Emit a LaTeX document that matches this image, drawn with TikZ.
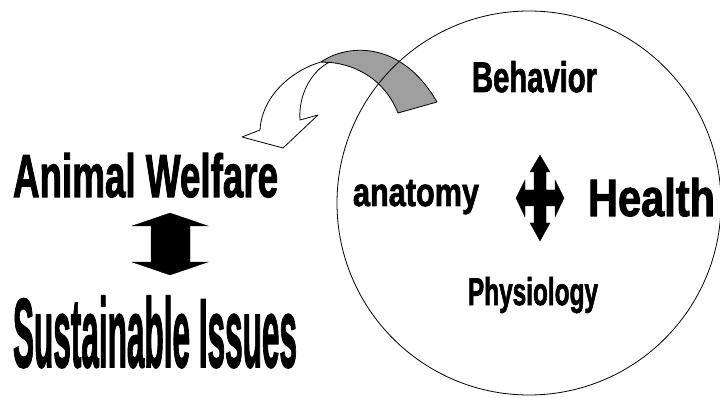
\documentclass[tikz,border=0pt]{standalone}
\usepackage{fontspec}
\setmainfont{Liberation Sans}[BoldFeatures={FakeBold=2}]
\usepackage{graphicx}
\newcommand{\fittext}[3]{\resizebox{#1pt}{#2pt}{\bfseries #3}}
\begin{document}
\begin{tikzpicture}[x=1pt,y=-1pt,
  lbl/.style={anchor=base west,inner sep=0pt,outer sep=0pt},
  outline/.style={draw=black,line width=0.8pt,line join=round},
  solidarrow/.style={fill=black,draw=black,line width=0.3pt,line join=miter}]
\useasboundingbox (0,0) rectangle (720,398);
\fill[white] (0,0) rectangle (720,398);
% ribbon arrow
\draw[outline,fill=white] (321,62) .. controls (293,70) and (262,95) .. (260,130)
  -- (242,137) -- (283,148) -- (318,115) -- (300,120)
  .. controls (298,95) and (312,70) .. (330,62) -- cycle;
\draw[outline,fill=gray!75] (321,62) .. controls (345,45) and (400,38) .. (437,102)
  -- (398,113) .. controls (385,80) and (355,62) .. cycle;
% circle
\draw[outline] (529,203) circle[radius=192pt];
% double vertical arrow
\draw[solidarrow] (170,213) -- (208,226) -- (190,226) -- (190,262) -- (208,262)
  -- (170,275) -- (132,262) -- (151,262) -- (151,226) -- (132,226) -- cycle;
% four-way arrow
\draw[solidarrow] (540,155) -- (550,172) -- (546,172) -- (546,190) -- (555,190)
  -- (555,180) -- (564,198) -- (555,217) -- (555,206) -- (546,206) -- (546,223)
  -- (550,223) -- (540,241) -- (530,223) -- (534,223) -- (534,206) -- (525,206)
  -- (525,217) -- (516,198) -- (525,180) -- (525,190) -- (534,190) -- (534,172)
  -- (530,172) -- cycle;
% texts
\node[lbl] (beh) at (472,92) {\fittext{125}{31}{Behavior}};
\node[lbl] (ana) at (353,206) {\fittext{126}{26}{anatomy}};
\node[lbl] (hea) at (588,216) {\fittext{127}{38}{Health}};
\node[lbl] (phy) at (468,305) {\fittext{130}{28}{Physiology}};
\node[lbl] (aw) at (13,197) {\fittext{265}{44}{Animal Welfare}};
\node[lbl] (si) at (13,367) {\fittext{284}{71}{Sustainable Issues}};
\end{tikzpicture}
\end{document}
